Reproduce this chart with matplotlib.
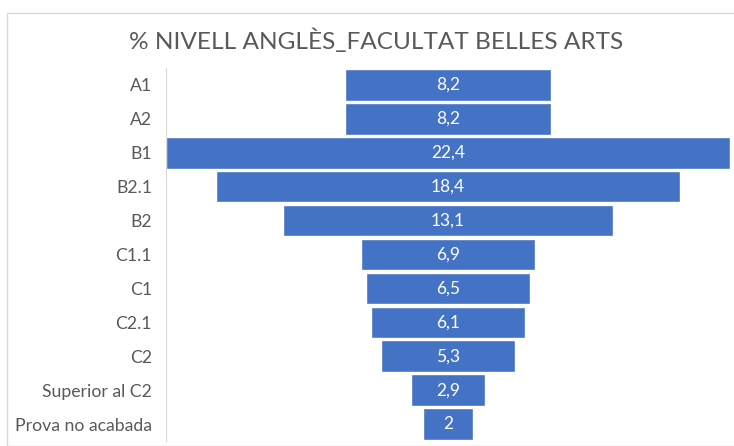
import matplotlib.pyplot as plt
from matplotlib.patches import Rectangle

# Nivell d'anglès, percentatges per categoria
levels = ["A1", "A2", "B1", "B2.1", "B2", "C1.1", "C1", "C2.1", "C2",
          "Superior al C2", "Prova no acabada"]
percent = [8.2, 8.2, 22.4, 18.4, 13.1, 6.9, 6.5, 6.1, 5.3, 2.9, 2]

plt.rcParams['font.family'] = ['Lato', 'DejaVu Sans']

W, H = 734, 446
fig = plt.figure(figsize=(W / 100, H / 100), dpi=100)

# chart frame (cut on the right / bottom as in the original)
fig.patches.append(Rectangle((7 / W, 0), 1.0, 1 - 13 / H, transform=fig.transFigure,
                             fill=False, edgecolor='#d9d9d9', linewidth=1))

ax = fig.add_axes([166 / W, 1 - 441 / H, (730 - 166) / W, (441 - 68) / H])

y = range(len(levels))
lefts = [-v / 2 for v in percent]
ax.barh(y, percent, left=lefts, height=0.93, color='#4472C4',
        edgecolor='white', linewidth=1)

for i, v in enumerate(percent):
    label = ('%g' % v).replace('.', ',')
    ax.text(0, i, label, ha='center', va='center', color='white', fontsize=12.5)

ax.set_xlim(-max(percent) / 2, max(percent) / 2)
ax.set_ylim(len(levels) - 0.5, -0.5)
ax.set_yticks(list(y))
ax.set_yticklabels(levels, fontsize=12.7, color='#595959')
ax.set_xticks([])
ax.tick_params(axis='y', length=0, pad=10)
for s in ['top', 'right', 'bottom']:
    ax.spines[s].set_visible(False)
ax.spines['left'].set_color('#d9d9d9')

fig.text(376 / W, 1 - 41 / H, "% NIVELL ANGLÈS_FACULTAT BELLES ARTS",
         ha='center', va='center', fontsize=17.6, color='#595959')

fig.savefig('out.png', dpi=100)
